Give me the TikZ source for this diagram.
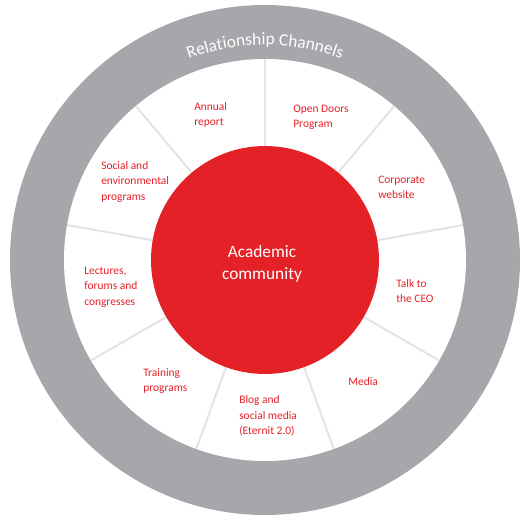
\documentclass[tikz,border=0pt]{standalone}
\usepackage{fontspec}
\setmainfont{Carlito}
\usetikzlibrary{decorations.text}
\definecolor{ringred}{RGB}{229,33,40}
\definecolor{ringgray}{RGB}{166,167,171}
\definecolor{slicegray}{RGB}{228,228,230}

\begin{document}
\begin{tikzpicture}[
  x=0.75pt, y=0.75pt,
  chan/.style={text=ringred, font=\fontsize{8.6}{11.6}\selectfont, align=left, anchor=west, inner sep=0pt},
  divider/.style={draw=slicegray, line width=1.5pt}
]
\useasboundingbox (-265,-269) rectangle (264,260);
% rings
\fill[ringgray] (0,0) circle[radius=255];
\fill[white] (0,0) circle[radius=201];
\foreach \a in {90,50,...,-230}
  \draw[divider] (0,0) -- (\a:201);
\fill[ringred] (0,0) circle[radius=114];
\node[text=white, font=\fontsize{13}{16.5}\selectfont, align=center] (core) at (-3,-4) {Academic\\community};
% ring title
\path[decorate, decoration={text along path, text align=center,
  text={|\color{white}\fontsize{13}{13}\selectfont|Relationship Channels}}]
  (150:215) arc[start angle=150, end angle=30, radius=215];
% channels
\node[chan] (annual) at (-71,145) {Annual\\report};
\node[chan] (doors) at (28,143) {Open Doors\\Program};
\node[chan] (web) at (113,72.5) {Corporate\\website};
\node[chan] (ceo) at (131,-31) {Talk to\\the CEO};
\node[chan] (media) at (83,-122) {Media};
\node[chan] (blog) at (-26,-156) {Blog and\\social media\\(Eternit 2.0)};
\node[chan] (training) at (-122,-121) {Training\\programs};
\node[chan] (lectures) at (-181,-27) {Lectures,\\forums and\\congresses};
\node[chan] (social) at (-164,78) {Social and\\environmental\\programs};
\end{tikzpicture}
\end{document}
